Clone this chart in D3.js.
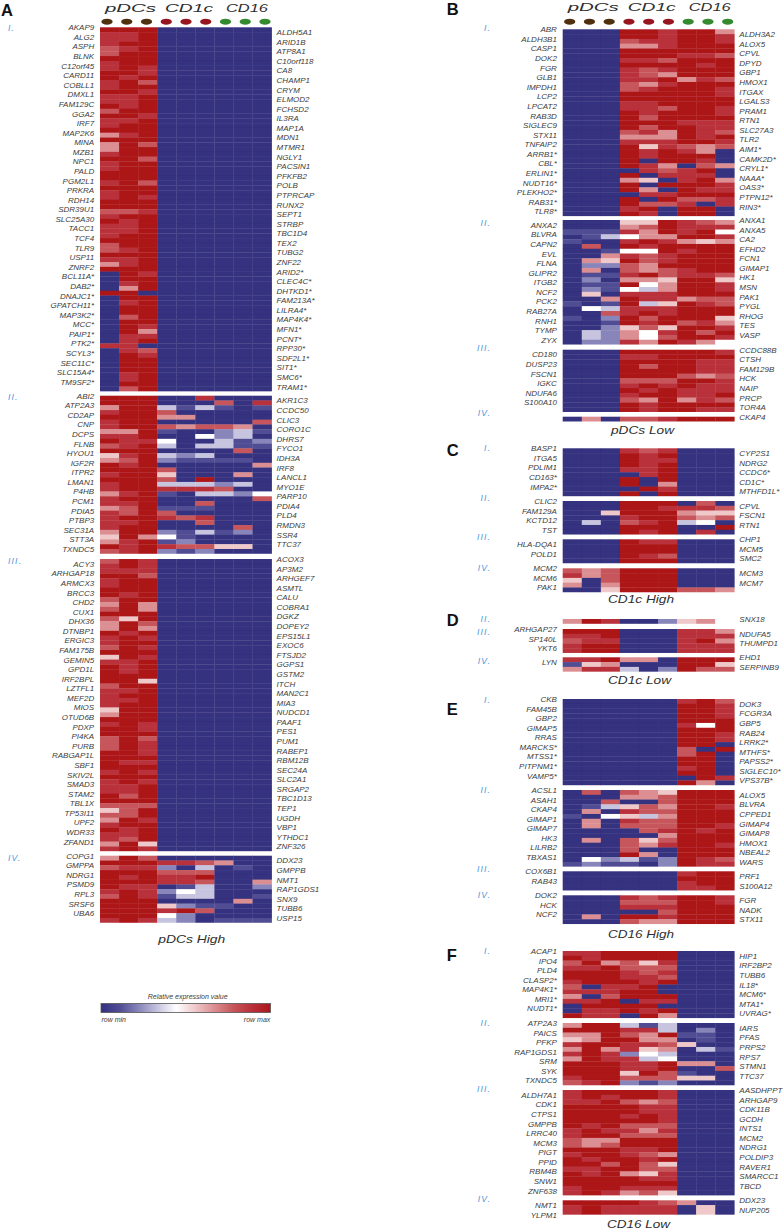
<!DOCTYPE html>
<html><head><meta charset="utf-8">
<script src="https://cdnjs.cloudflare.com/ajax/libs/d3/7.8.5/d3.min.js"></script>
<style>html,body{margin:0;padding:0;background:#fff}svg{display:block}text{font-family:"Liberation Sans",Arial,sans-serif}</style>
</head><body><svg id="c" width="783" height="1229"></svg>
<script>
// Heat values: each string is one row, each digit one sample (0 = row min, 4 = midpoint, 9 = row max)
const a1=["999000000","889000000","889000000","899000000","789000000","799000000","999000000","899000000","898000000","998000000","989000000","897000000","899000000","998000000","889000000","889000000","989000000","799000000","998000000","889000000","899000000","999000000","689000000","999000000","697000000","699000000","899000000","997000000","899000000","899000000","999000000","999000000","897000000","999000000","899000000","898000000","999000000","999000000","778000000","899000000","989000000","889000000","889000000","899000000","999000000","799000000","789000000","999000000","889000000","689000000","999000000","098000000","099000000","089000000","069000000","990000000","099000000","089000000","099000000","099000000","079000000","099000000","098000000","096000000","088000000","089000000","880000000","087000000","098000000","099000000","099000000","099000000","089000000","089000000","099000000","079000000"];
const a2=["999008000","999000708","699313101","899700000","999660000","899000007","899767760","669100231","889004230","988400312","789303311","999000070","589323000","679211110","989000006","999700000","899500060","999709000","899333230","899888700","689103324","899000007","889007000","679111000","879700000","899878000","889007000","899000070","699213120","596410000","689120000","989877550","789212000"];
const a3=["798000000","898000000","888000000","997000000","899000000","899000000","999000000","989000000","799000000","696000000","796000000","999000000","759000000","697000000","696000000","989000000","898000000","899000000","798000000","999000000","598000000","889000000","989000000","989000000","999000000","995000000","799000000","889000000","899000000","889000000","899000000","599000000","699000000","999000000","898000000","998000000","999000000","797000000","798000000","798000000","998000000","999000000","988000000","999000000","898000000","999000000","898000000","889000000","889000000","979000000","999000000","777000000","579000000","779000000","698000000","899000000","989000000","889000000","879000000","695000000","898000000"];
const a4=["697000000","999887600","788203010","999777000","989889000","999887006","988013002","898243000","798133001","999000060","999521100","999897000","999420000","898320111"];
const b1=["000998996","000998998","000788998","000668999","000999999","000999887","000887999","000999989","000878999","000876999","000889687","000768999","000789998","000999998","000999999","000889999","000887998","000989998","000979999","000999888","000979988","000786987","000666989","000888998","000958767","000989860","000989990","000909980","000986076","000087890","000908880","000650896","000909998","000960988","000088999","000909778","000977808","000890990","000980990"];
const b2=["000559876","000679888","111869894","013466998","100898656","070989999","001449899","006878999","065978999","022769999","060767899","011897887","020665995","011946998","021436998","050888999","006988677","101935987","043888999","007898999","102979995","001989786","002575998","032648979","032647998","022869864"];
const b3=["000999998","000889999","000999988","000979988","000999988","000999767","000777998","000898988","000989888","000899889","000769687","000989999","000989988"];
const b4=["060778999"];
const c1=["000878000","000989000","000988000","000989000","000889000","000089000","000909000","000906000","000098000","000909000"];
const c2=["000999070","000998887","005999655","000899767","030789340","000999009","000989080"];
const c3=["000988000","000999000","000999000","000987000","000999000"];
const c4=["767999000","867999000","507999000","606999000","005999776"];
const dII=["698002564"];
const dIII=["999000886","889000888","788000896","899000888","899000888"];
const dIV=["889660999","156000995","688302977"];
const e1=["000000897","000000998","000000998","000000998","000000999","000000849","000000999","000000998","000000998","000000990","000000709","000000790","000000990","000000990","000000890","000000990","000000098","000000960"];
const e2=["070765999","000667999","007007999","013576998","060877999","104536999","060877999","060777998","000078989","000006999","060757999","000768998","000700999","000960999","042312987","121102988"];
const e3=["000000899","000000999","000000899","000000889"];
const e4=["000878998","000777998","000888999","000007999","060998999","000766999"];
const f1=["889999000","989999000","796758000","889777000","999878000","999887000","899989000","708890000","888990000","607999000","889088000","099990000","088989000","988096000"];
const f2=["699313000","999883020","669769110","569966010","899887500","696856031","898243000","698834000","999889660","999889007","999597100","899777550","789212000"];
const f3=["899998000","898998000","889767000","999988000","999988000","999898000","999998000","989777000","898868000","899777000","766999000","767999000","999889000","899876000","989989000","997975000","889977000","989658000","999988000","999999000","899888000","898675000"];
const f4=["999987600","898888050","898888050"];

// Gene labels
const a1L=["AKAP9","ALG2","ASPH","BLNK","C12orf45","CARD11","COBLL1","DMXL1","FAM129C","GGA2","IRF7","MAP2K6","MINA","MZB1","NPC1","PALD","PGM2L1","PRKRA","RDH14","SDR39U1","SLC25A30","TACC1","TCF4","TLR9","USP11","ZNRF2","BCL11A*","DAB2*","DNAJC1*","GPATCH11*","MAP3K2*","MCC*","PAIP1*","PTK2*","SCYL3*","SEC11C*","SLC15A4*","TM9SF2*"];
const a1R=["ALDH5A1","ARID1B","ATP8A1","C10orf118","CA8","CHAMP1","CRYM","ELMOD2","FCHSD2","IL3RA","MAP1A","MDN1","MTMR1","NGLY1","PACSIN1","PFKFB2","POLB","PTPRCAP","RUNX2","SEPT1","STRBP","TBC1D4","TEX2","TUBG2","ZNF22","ARID2*","CLEC4C*","DHTKD1*","FAM213A*","LILRA4*","MAP4K4*","MFN1*","PCNT*","RPP30*","SDF2L1*","SIT1*","SMC6*","TRAM1*"];
const a2L=["ABI2","ATP2A3","CD2AP","CNP","DCPS","FLNB","HYOU1","IGF2R","ITPR2","LMAN1","P4HB","PCM1","PDIA5","PTBP3","SEC31A","STT3A","TXNDC5"];
const a2R=["AKR1C3","CCDC50","CLIC3","CORO1C","DHRS7","FYCO1","IDH3A","IRF8","LANCL1","MYO1E","PARP10","PDIA4","PLD4","RMDN3","SSR4","TTC37"];
const a3L=["ACY3","ARHGAP18","ARMCX3","BRCC3","CHD2","CUX1","DHX36","DTNBP1","ERGIC3","FAM175B","GEMIN5","GPD1L","IRF2BPL","LZTFL1","MEF2D","MIOS","OTUD6B","PDXP","PI4KA","PURB","RABGAP1L","SBF1","SKIV2L","SMAD3","STAM2","TBL1X","TP53I11","UPF2","WDR33","ZFAND1"];
const a3R=["ACOX3","AP3M2","ARHGEF7","ASMTL","CALU","COBRA1","DGKZ","DOPEY2","EPS15L1","EXOC6","FTSJD2","GGPS1","GSTM2","ITCH","MAN2C1","MIA3","NUDCD1","PAAF1","PES1","PUM1","RABEP1","RBM12B","SEC24A","SLC2A1","SRGAP2","TBC1D13","TEP1","UGDH","VBP1","YTHDC1","ZNF326"];
const a4L=["COPG1","GMPPA","NDRG1","PSMD9","RPL3","SRSF6","UBA6"];
const a4R=["DDX23","GMPPB","NMT1","RAP1GDS1","SNX9","TUBB6","USP15"];
const b1L=["ABR","ALDH3B1","CASP1","DOK2","FGR","GLB1","IMPDH1","LCP2","LPCAT2","RAB3D","SIGLEC9","STX11","TNFAIP2","ARRB1*","CBL*","ERLIN1*","NUDT16*","PLEKHO2*","RAB31*","TLR8*"];
const b1R=["ALDH3A2","ALOX5","CPVL","DPYD","GBP1","HMOX1","ITGAX","LGALS3","PRAM1","RTN1","SLC27A3","TLR2","AIM1*","CAMK2D*","CRYL1*","NAAA*","OAS3*","PTPN12*","RIN3*"];
const b2L=["ANXA2","BLVRA","CAPN2","EVL","FLNA","GLIPR2","ITGB2","NCF2","PCK2","RAB27A","RNH1","TYMP","ZYX"];
const b2R=["ANXA1","ANXA5","CA2","EFHD2","FCN1","GIMAP1","HK1","MSN","PAK1","PYGL","RHOG","TES","VASP"];
const b3L=["CD180","DUSP23","FSCN1","IGKC","NDUFA6","S100A10"];
const b3R=["CCDC88B","CTSH","FAM129B","HCK","NAIP","PRCP","TOR4A"];
const b4L=[],b4R=["CKAP4"];
const c1L=["BASP1","ITGA5","PDLIM1","CD163*","IMPA2*"],c1R=["CYP2S1","NDRG2","CCDC6*","CD1C*","MTHFD1L*"];
const c2L=["CLIC2","FAM129A","KCTD12","TST"],c2R=["CPVL","FSCN1","RTN1"];
const c3L=["HLA-DQA1","POLD1"],c3R=["CHP1","MCM5","SMC2"];
const c4L=["MCM2","MCM6","PAK1"],c4R=["MCM3","MCM7"];
const dIIL=[],dIIR=["SNX18"];
const dIIIL=["ARHGAP27","SP140L","YKT6"],dIIIR=["NDUFA5","THUMPD1"];
const dIVL=["LYN"],dIVR=["EHD1","SERPINB9"];
const e1L=["CKB","FAM45B","GBP2","GIMAP5","RRAS","MARCKS*","MTSS1*","PITPNM1*","VAMP5*"],e1R=["DOK3","FCGR3A","GBP5","RAB24","LRRK2*","MTHFS*","PAPSS2*","SIGLEC10*","VPS37B*"];
const e2L=["ACSL1","ASAH1","CKAP4","GIMAP1","GIMAP7","HK3","LILRB2","TBXAS1"],e2R=["ALOX5","BLVRA","CPPED1","GIMAP4","GIMAP8","HMOX1","NBEAL2","WARS"];
const e3L=["COX6B1","RAB43"],e3R=["PRF1","S100A12"];
const e4L=["DOK2","HCK","NCF2"],e4R=["FGR","NADK","STX11"];
const f1L=["ACAP1","IPO4","PLD4","CLASP2*","MAP4K1*","MRI1*","NUDT1*"],f1R=["HIP1","IRF2BP2","TUBB6","IL18*","MCM6*","MTA1*","UVRAG*"];
const f2L=["ATP2A3","PAICS","PFKP","RAP1GDS1","SRM","SYK","TXNDC5"],f2R=["IARS","PFAS","PRPS2","RPS7","STMN1","TTC37"];
const f3L=["ALDH7A1","CDK1","CTPS1","GMPPB","LRRC40","MCM3","PIGT","PPID","RBM4B","SNW1","ZNF638"],f3R=["AASDHPPT","ARHGAP9","CDK11B","GCDH","INTS1","MCM2","NDRG1","POLDIP3","RAVER1","SMARCC1","TBCD"];
const f4L=["NMT1","YLPM1"],f4R=["DDX23","NUP205"];

const groups=["pDCs","CD1c","CD16"];
const samples=d3.range(9);
const levels=d3.range(10);
const levelColors=["#35307f","#514d94","#8885ba","#c6c4df","#ffffff","#efc8ca","#dc8f92","#c6575b","#b9303a","#ad1519"];

// Layout (kept apart from the values)
const ROW=4.79, WIDE=171.6, XA=100, XB=562.7;
const blocks=[
 {x:XA,y:27.3,rows:a1,L:a1L,R:a1R,lead:"L",tag:"I.",tagY:28},
 {x:XA,y:395.7,rows:a2,L:a2L,R:a2R,lead:"L",tag:"II.",tagY:397},
 {x:XA,y:559,rows:a3,L:a3L,R:a3R,lead:"R",tag:"III.",tagY:561},
 {x:XA,y:855.7,rows:a4,L:a4L,R:a4R,lead:"L",tag:"IV.",tagY:858},
 {x:XB,y:29.3,rows:b1,L:b1L,R:b1R,lead:"L",tag:"I.",tagY:28},
 {x:XB,y:220,rows:b2,L:b2L,R:b2R,lead:"R",tag:"II.",tagY:223},
 {x:XB,y:349.7,rows:b3,L:b3L,R:b3R,lead:"R",tag:"III.",tagY:348},
 {x:XB,y:416.7,rows:b4,L:b4L,R:b4R,lead:"R",tag:"IV.",tagY:413},
 {x:XB,y:448.3,rows:c1,L:c1L,R:c1R,lead:"L",tag:"I.",tagY:448},
 {x:XB,y:501,rows:c2,L:c2L,R:c2R,lead:"L",tag:"II.",tagY:498},
 {x:XB,y:539.3,rows:c3,L:c3L,R:c3R,lead:"R",tag:"III.",tagY:537},
 {x:XB,y:568.3,rows:c4,L:c4L,R:c4R,lead:"L",tag:"IV.",tagY:568},
 {x:XB,y:619,rows:dII,L:dIIL,R:dIIR,lead:"R",tag:"II.",tagY:619},
 {x:XB,y:629,rows:dIII,L:dIIIL,R:dIIIR,lead:"L",tag:"III.",tagY:632},
 {x:XB,y:657.3,rows:dIV,L:dIVL,R:dIVR,lead:"R",tag:"IV.",tagY:661},
 {x:XB,y:699,rows:e1,L:e1L,R:e1R,lead:"L",tag:"I.",tagY:700},
 {x:XB,y:790,rows:e2,L:e2L,R:e2R,lead:"L",tag:"II.",tagY:790},
 {x:XB,y:871.3,rows:e3,L:e3L,R:e3R,lead:"L",tag:"III.",tagY:869},
 {x:XB,y:895.3,rows:e4,L:e4L,R:e4R,lead:"L",tag:"IV.",tagY:895},
 {x:XB,y:951,rows:f1,L:f1L,R:f1R,lead:"L",tag:"I.",tagY:951},
 {x:XB,y:1023,rows:f2,L:f2L,R:f2R,lead:"L",tag:"II.",tagY:1023},
 {x:XB,y:1090,rows:f3,L:f3L,R:f3R,lead:"R",tag:"III.",tagY:1089},
 {x:XB,y:1200.3,rows:f4,L:f4L,R:f4R,lead:"R",tag:"IV.",tagY:1199}
];
const panels=[{t:"A",x:1,y:15.7},{t:"B",x:446.7,y:15},{t:"C",x:446.7,y:455.7},{t:"D",x:446.7,y:625.7},{t:"E",x:446.7,y:715},{t:"F",x:446.7,y:961}];
const titles=[{t:"pDCs High",x:191.7,y:942.7,w:67},{t:"pDCs Low",x:642.5,y:434,w:63},{t:"CD1c High",x:641,y:603,w:66},{t:"CD1c Low",x:639.5,y:684,w:63},{t:"CD16 High",x:641,y:938.3,w:66},{t:"CD16 Low",x:638.5,y:1228,w:63}];

const svg=d3.select("#c");
const color=d3.scaleLinear().domain(levels).range(levelColors);

const defs=svg.append("defs");
defs.append("filter").attr("id","soft").attr("x","-2%").attr("y","-10%").attr("width","104%").attr("height","120%")
  .append("feGaussianBlur").attr("stdDeviation",0.45);
const grad=defs.append("linearGradient").attr("id","lg");
grad.selectAll("stop").data(levels).join("stop")
  .attr("offset",d=>d/9).attr("stop-color",d=>color(d));

const LABEL="#3c3c3c";
blocks.forEach(b=>{
  const n=b.rows.length;
  const x=d3.scaleBand().domain(samples).range([b.x,b.x+WIDE]);
  const y=d3.scaleLinear().domain([0,n]).range([b.y,b.y+n*ROW]);
  const g=svg.append("g").attr("filter","url(#soft)");
  b.rows.forEach((row,r)=>{
    g.selectAll(null).data(row.split("").map(Number)).join("rect")
      .attr("x",(d,i)=>x(i)).attr("y",y(r))
      .attr("width",x.bandwidth()+0.3).attr("height",ROW+(r<n-1?0.3:0))
      .attr("fill",d=>color(d));
  });
  const place=(names,offset,side)=>{
    const lx=side==="L"?b.x-5.8:b.x+WIDE+5;
    svg.append("g").selectAll("text").data(names).join("text")
      .attr("x",lx).attr("y",(d,i)=>y(2*i+offset+0.5)-2.2)
      .attr("dy","0.35em").attr("text-anchor",side==="L"?"end":"start")
      .attr("font-size",8).attr("font-style","italic").attr("fill",LABEL)
      .text(d=>d);
  };
  place(b.L,b.lead==="L"?0:1,"L");
  place(b.R,b.lead==="R"?0:1,"R");
  svg.append("text").text(b.tag)
    .attr("x",b.x===XA?8:b.x-71.5).attr("y",b.tagY).attr("dy","0.35em")
    .attr("text-anchor",b.x===XA?"start":"end")
    .attr("font-size",8.5).attr("font-style","italic").attr("letter-spacing",1.2).attr("fill","#4a96dc");
});

// Headers + sample dots
const headFrom=[5,65,126], headWide=[51,48,42];
const dotColors=["#4e2f0e","#97151f","#35892f"];
[{x:XA,y:11.7},{x:XB,y:11.2}].forEach(p=>{
  svg.append("g").selectAll("text").data(groups).join("text")
    .attr("x",(d,i)=>p.x+headFrom[i]).attr("y",p.y)
    .attr("textLength",(d,i)=>headWide[i]).attr("lengthAdjust","spacingAndGlyphs")
    .attr("font-size",10.5).attr("font-style","italic").attr("fill","#2e2e2e").text(d=>d);
  const dx=d3.scalePoint().domain(samples).range([p.x+7,p.x+165]);
  svg.append("g").selectAll("ellipse").data(samples).join("ellipse")
    .attr("cx",d=>dx(d)).attr("cy",21.7).attr("rx",5.6).attr("ry",3)
    .attr("fill",d=>dotColors[Math.floor(d/3)]);
});

svg.append("g").selectAll("text").data(panels).join("text")
  .attr("x",d=>d.x).attr("y",d=>d.y).attr("font-size",16.5).attr("font-weight","bold")
  .attr("fill","#111").text(d=>d.t);

svg.append("g").selectAll("text").data(titles).join("text")
  .attr("x",d=>d.x).attr("y",d=>d.y).attr("text-anchor","middle")
  .attr("textLength",d=>d.w).attr("lengthAdjust","spacingAndGlyphs")
  .attr("font-size",10.5).attr("font-style","italic").attr("fill","#2e2e2e").text(d=>d.t);

// Legend
svg.append("rect").attr("x",101).attr("y",1003.5).attr("width",169.5).attr("height",9)
  .attr("fill","url(#lg)").attr("stroke","#555").attr("stroke-width",0.8);
const legendText=[{t:"Relative expression value",x:187.7,y:997,a:"middle"},{t:"row min",x:101.5,y:1020,a:"start"},{t:"row max",x:270.3,y:1020,a:"end"}];
svg.append("g").selectAll("text").data(legendText).join("text")
  .attr("x",d=>d.x).attr("y",d=>d.y).attr("dy","0.35em").attr("text-anchor",d=>d.a)
  .attr("font-size",7).attr("font-style","italic").attr("fill","#3c3c3c").text(d=>d.t);
</script></body></html>
